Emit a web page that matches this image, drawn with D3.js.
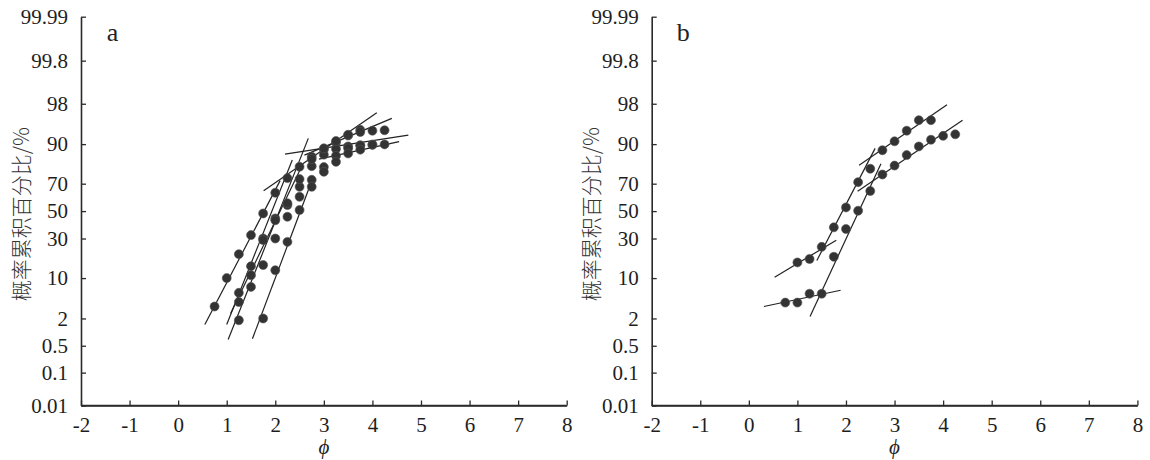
<!DOCTYPE html>
<html><head><meta charset="utf-8">
<script src="https://cdn.jsdelivr.net/npm/d3@7"></script>
<style>
html,body{margin:0;padding:0;background:#fff;}
svg{display:block;}
</style></head>
<body>
<svg id="chart" width="1150" height="460"></svg>
<script>
// ---------------- data ----------------
const xTicks = [-2,-1,0,1,2,3,4,5,6,7,8];
const xTickLabels = ["-2","-1","0","1","2","3","4","5","6","7","8"];
const yTicks = [0.01,0.1,0.5,2,10,30,50,70,90,98,99.8,99.99];
const yTickLabels = ["0.01","0.1","0.5","2","10","30","50","70","90","98","99.8","99.99"];
const yTitle = "概率累积百分比/%";
const xTitle = "ϕ";
const panelLetters = ["a","b"];

// panel a : phi values and cumulative percentages
const aPhiA = [0.75,1,1.25,1.5,1.75,2,2.25,2.5,2.75,3,3.25,3.5,3.75];
const aPctA = [3.4,10,20.5,32.3,48.2,63.7,73.6,80.2,85.1,88.1,90.5,92.6,94.0];
const aPhiB = [1.25,1.5,1.75,2,2.25,2.5,2.75,3,3.25,3.5,3.75,4,4.25];
const aPctB = [5.9,14.6,30.0,44.4,54.6,67.9,80.5,86.0,88.3,89.2,89.6,89.8,89.9];
const aPhiC = [1.25,1.5,1.75,2,2.25,2.5,2.75,3,3.25,3.5,3.75,4,4.25];
const aPctC = [4.1,11.0,29.0,43.0,56.0,73.0,84.0,88.5,91.0,92.8,93.5,93.8,93.9];
const aPhiD = [1.25,1.5,1.75,2,2.25,2.5,2.75,3,3.25,3.5,3.75,4];
const aPctD = [1.84,7.35,15.1,30.0,45.7,60.8,72.5,80.0,85.5,88.5,89.5,89.8];
const aPhiE = [1.75,2,2.25,2.5,2.75,3,3.25,3.5,3.75];
const aPctE = [2.0,12.9,27.8,50.8,67.9,77.4,82.7,86.5,88.0];
// fitted segments, panel a: [phi1, pct1, phi2, pct2]
const aLines = [
  [0.55,1.5,2.1,72.0],
  [1.0,1.5,2.35,83.6],
  [1.03,0.7,2.68,91.8],
  [1.53,0.73,2.72,69.1],
  [1.08,2.5,2.5,78.0],
  [1.76,65.1,4.09,97.0],
  [2.2,86.2,4.74,92.7],
  [2.6,85.8,4.4,96.2],
  [2.9,84.0,4.55,90.8]
];

// panel b
const bPhi1 = [1,1.25,1.5,1.75,2,2.25,2.5,2.75,3,3.25,3.5,3.75];
const bPct1 = [16.3,18.0,24.7,37.8,52.8,71.0,79.1,87.8,90.9,93.8,95.9,95.9];
const bPhi2 = [0.75,1,1.25,1.5,1.75,2,2.25,2.5,2.75,3,3.25,3.5,3.75,4,4.25];
const bPct2 = [4.0,4.0,5.7,5.7,19.1,36.6,50.3,65.0,75.8,80.8,85.8,89.2,91.4,92.5,92.9];
const bLines = [
  [0.53,10.3,1.80,28.9],
  [1.40,17.2,2.60,88.5],
  [2.27,81.0,4.08,97.9],
  [0.31,3.4,1.89,6.5],
  [1.26,2.2,2.72,81.8],
  [2.24,64.8,4.40,95.9]
];

// ---------------- helpers ----------------
// inverse standard normal CDF (Acklam)
function probit(p){
  const a=[-3.969683028665376e+01,2.209460984245205e+02,-2.759285104469687e+02,1.383577518672690e+02,-3.066479806614716e+01,2.506628277459239e+00];
  const b=[-5.447609879822406e+01,1.615858368580409e+02,-1.556989798598866e+02,6.680131188771972e+01,-1.328068155288572e+01];
  const c=[-7.784894002430293e-03,-3.223964580411365e-01,-2.400758277161838e+00,-2.549671010115819e+00,4.374664141464968e+00,2.938163982698783e+00];
  const d=[7.784695709041462e-03,3.224671290700398e-01,2.445134137142996e+00,3.754408661907416e+00];
  const pl=0.02425, ph=1-pl; let q,r;
  if(p<pl){q=Math.sqrt(-2*Math.log(p));return (((((c[0]*q+c[1])*q+c[2])*q+c[3])*q+c[4])*q+c[5])/((((d[0]*q+d[1])*q+d[2])*q+d[3])*q+1);}
  if(p<=ph){q=p-0.5;r=q*q;return (((((a[0]*r+a[1])*r+a[2])*r+a[3])*r+a[4])*r+a[5])*q/(((((b[0]*r+b[1])*r+b[2])*r+b[3])*r+b[4])*r+1);}
  q=Math.sqrt(-2*Math.log(1-p));return -(((((c[0]*q+c[1])*q+c[2])*q+c[3])*q+c[4])*q+c[5])/((((d[0]*q+d[1])*q+d[2])*q+d[3])*q+1);
}

const svg = d3.select("#chart");
const serif = '"Liberation Serif","Times New Roman",Tinos,"DejaVu Serif",serif';
const ink = "#2a2a2a";

function panel(left, letter, series, lines){
  const top = 16.7, bottom = 405.5, width = 485.7;
  const x = d3.scaleLinear().domain([-2,8]).range([left, left+width]);
  const zy = d3.scaleLinear().domain([probit(0.0001), probit(0.9999)]).range([bottom, top]);
  const y = pct => zy(probit(pct/100));
  const g = svg.append("g");

  // axes
  const xAxis = d3.axisBottom(x).tickValues(xTicks).tickSizeInner(-5).tickSizeOuter(0).tickPadding(16)
      .tickFormat((d,i)=>xTickLabels[i]);
  const gx = g.append("g").attr("transform",`translate(0,${bottom})`).call(xAxis);
  const yAxis = d3.axisLeft(zy).tickValues(yTicks.map(v=>probit(v/100)))
      .tickSizeInner(-5).tickSizeOuter(0).tickPadding(13)
      .tickFormat((d,i)=>yTickLabels[i]);
  const gy = g.append("g").attr("transform",`translate(${left},0)`).call(yAxis);
  [gx,gy].forEach(a=>{
    a.attr("font-family",null);
    a.select(".domain").attr("stroke",ink).attr("stroke-width",1.6);
    a.selectAll(".tick line").attr("stroke",ink).attr("stroke-width",1.3);
    a.selectAll(".tick text").attr("fill","#1e1e1e").attr("font-family",serif)
      .style("font-family",serif).style("font-size","21px");
  });
  gx.selectAll(".tick text").attr("dy","0.5em");
  g.append("line").attr("x1",left).attr("x2",left+width).attr("y1",bottom).attr("y2",bottom)
   .attr("stroke",ink).attr("stroke-width",1.6);

  // titles
  g.append("text").attr("transform",`translate(${left-58},${(top+bottom)/2+3}) rotate(-90)`)
   .attr("text-anchor","middle").attr("dominant-baseline","middle")
   .style("font-family","'Noto Sans CJK SC',sans-serif").style("font-size","21px")
   .style("font-weight","300").attr("fill","#333")
   .text(yTitle);
  g.append("text").attr("x",left+width/2).attr("y",454).attr("text-anchor","middle")
   .style("font-family",serif).style("font-style","italic").style("font-size","21px").attr("fill","#222")
   .text(xTitle);
  g.append("text").attr("x",x(-1.35)).attr("y",41).attr("text-anchor","middle")
   .style("font-family",serif).style("font-size","26px").attr("fill","#222").text(letter);

  // fitted lines
  g.selectAll("line.fit").data(lines).join("line").attr("class","fit")
   .attr("x1",d=>x(d[0])).attr("y1",d=>y(d[1])).attr("x2",d=>x(d[2])).attr("y2",d=>y(d[3]))
   .attr("stroke","#222").attr("stroke-width",1.2);

  // points
  series.forEach(([phis,pcts])=>{
    g.selectAll(null).data(phis.map((p,i)=>[p,pcts[i]])).join("circle")
     .attr("cx",d=>x(d[0])).attr("cy",d=>y(d[1])).attr("r",4.5)
     .attr("fill","#333").attr("stroke","#555").attr("stroke-width",0.6);
  });
}

panel(81, panelLetters[0],
  [[aPhiA,aPctA],[aPhiB,aPctB],[aPhiC,aPctC],[aPhiD,aPctD],[aPhiE,aPctE]], aLines);
panel(651.7, panelLetters[1], [[bPhi1,bPct1],[bPhi2,bPct2]], bLines);
</script>
</body></html>
